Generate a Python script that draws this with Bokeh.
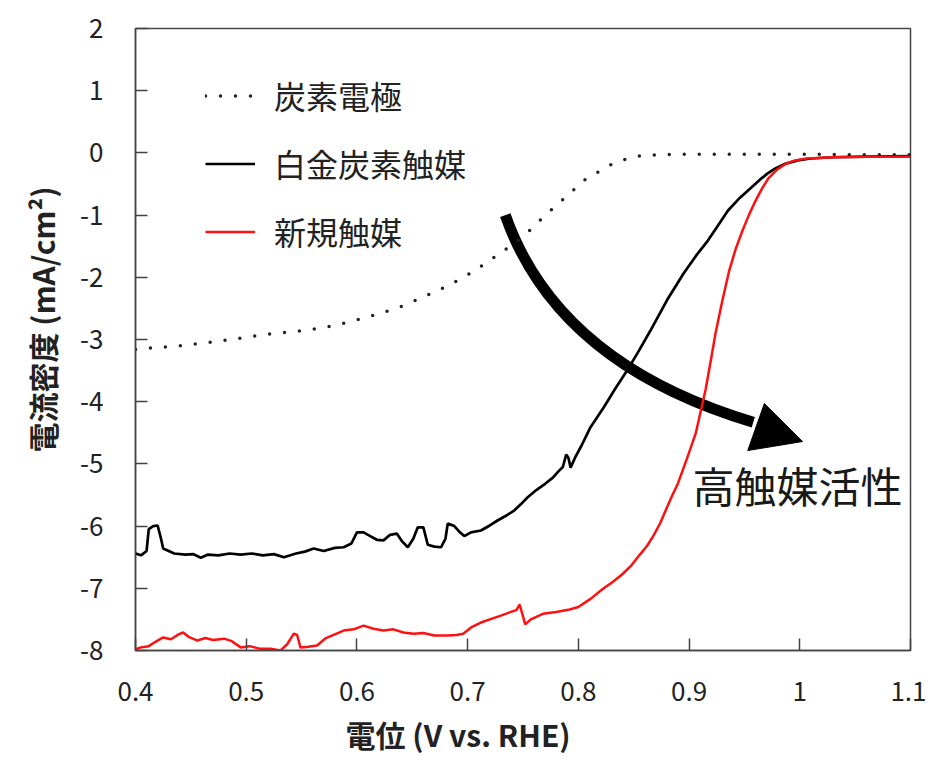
import math
from bokeh.plotting import figure
from bokeh.models import Range1d, FixedTicker, Legend, LegendItem, Label, Title
from bokeh.embed import file_html
from bokeh.resources import INLINE

# ---------------- data ----------------
carbon_x = [0.400, 0.412, 0.440, 0.465, 0.490, 0.517, 0.545, 0.570, 0.595, 0.621,
            0.640, 0.657, 0.683, 0.705, 0.728, 0.750, 0.769, 0.788, 0.808, 0.822,
            0.832, 0.845, 0.858, 0.871, 0.900, 0.950, 1.000, 1.050, 1.100]
carbon_y = [-3.16, -3.14, -3.10, -3.05, -2.99, -2.92, -2.87, -2.81, -2.71, -2.58,
            -2.47, -2.34, -2.13, -1.91, -1.63, -1.35, -1.02, -0.72, -0.40, -0.27,
            -0.16, -0.09, -0.04, -0.03, -0.02, -0.02, -0.02, -0.03, -0.03]

ptc_x = [0.400, 0.405, 0.410, 0.412, 0.416, 0.420, 0.423, 0.425, 0.430, 0.435,
         0.445, 0.452, 0.459, 0.465, 0.475, 0.485, 0.495, 0.505, 0.515, 0.525,
         0.534, 0.545, 0.553, 0.561, 0.570, 0.580, 0.588, 0.595, 0.600, 0.606,
         0.612, 0.618, 0.624, 0.630, 0.636, 0.641, 0.646, 0.651, 0.655, 0.660,
         0.664, 0.670, 0.676, 0.680, 0.682, 0.688, 0.693, 0.697, 0.703, 0.712,
         0.720, 0.727, 0.735, 0.742, 0.748, 0.754, 0.762, 0.770, 0.777, 0.782,
         0.786, 0.789, 0.791, 0.793, 0.797, 0.803, 0.811, 0.823, 0.833, 0.844,
         0.855, 0.865, 0.880, 0.895, 0.906, 0.917, 0.926, 0.935, 0.946, 0.956,
         0.964, 0.971, 0.978, 0.986, 0.998, 1.010, 1.030, 1.060, 1.100]
ptc_y = [-6.44, -6.47, -6.40, -6.05, -6.00, -5.99, -6.20, -6.36, -6.40, -6.44,
         -6.46, -6.45, -6.51, -6.46, -6.47, -6.44, -6.46, -6.44, -6.47, -6.45,
         -6.50, -6.44, -6.41, -6.36, -6.40, -6.35, -6.34, -6.28, -6.10, -6.10,
         -6.16, -6.22, -6.23, -6.14, -6.12, -6.25, -6.34, -6.20, -6.02, -6.02,
         -6.30, -6.33, -6.34, -6.20, -5.96, -6.00, -6.10, -6.16, -6.10, -6.07,
         -5.99, -5.91, -5.83, -5.75, -5.65, -5.54, -5.42, -5.32, -5.22, -5.12,
         -5.05, -4.85, -4.90, -5.06, -4.90, -4.70, -4.41, -4.09, -3.80, -3.50,
         -3.17, -2.86, -2.37, -1.94, -1.66, -1.41, -1.17, -0.93, -0.72, -0.56,
         -0.43, -0.33, -0.25, -0.18, -0.12, -0.09, -0.07, -0.06, -0.05]

new_x = [0.400, 0.405, 0.412, 0.418, 0.425, 0.432, 0.438, 0.443, 0.448, 0.456,
         0.463, 0.470, 0.480, 0.487, 0.495, 0.503, 0.512, 0.522, 0.531, 0.537,
         0.543, 0.546, 0.549, 0.556, 0.564, 0.572, 0.580, 0.588, 0.597, 0.606,
         0.615, 0.624, 0.633, 0.642, 0.651, 0.660, 0.670, 0.682, 0.690, 0.696,
         0.704, 0.712, 0.720, 0.730, 0.739, 0.744, 0.747, 0.750, 0.752, 0.757,
         0.768, 0.780, 0.792, 0.800, 0.811, 0.822, 0.831, 0.840, 0.848, 0.855,
         0.862, 0.868, 0.874, 0.880, 0.885, 0.890, 0.898, 0.906, 0.915, 0.920,
         0.924, 0.930, 0.936, 0.942, 0.948, 0.954, 0.960, 0.966, 0.972, 0.980,
         0.988, 0.996, 1.006, 1.030, 1.060, 1.100]
new_y = [-7.98, -7.95, -7.93, -7.86, -7.79, -7.82, -7.75, -7.71, -7.78, -7.84,
         -7.80, -7.83, -7.81, -7.85, -7.95, -7.93, -7.97, -7.97, -8.00, -7.90,
         -7.73, -7.75, -7.95, -7.94, -7.92, -7.80, -7.74, -7.68, -7.66, -7.60,
         -7.65, -7.68, -7.66, -7.71, -7.73, -7.72, -7.76, -7.76, -7.75, -7.73,
         -7.62, -7.55, -7.50, -7.44, -7.38, -7.35, -7.26, -7.45, -7.58, -7.50,
         -7.41, -7.38, -7.34, -7.30, -7.17, -7.01, -6.90, -6.77, -6.63, -6.47,
         -6.32, -6.15, -5.95, -5.70, -5.50, -5.31, -4.92, -4.51, -3.80, -3.30,
         -2.89, -2.38, -1.91, -1.55, -1.26, -1.00, -0.77, -0.57, -0.40, -0.26,
         -0.17, -0.12, -0.09, -0.07, -0.06, -0.06]

series_names = ["炭素電極", "白金炭素触媒", "新規触媒"]

x_ticks = [0.4, 0.5, 0.6, 0.7, 0.8, 0.9, 1.0, 1.1]
x_tick_labels = ["0.4", "0.5", "0.6", "0.7", "0.8", "0.9", "1", "1.1"]
y_ticks = [2, 1, 0, -1, -2, -3, -4, -5, -6, -7, -8]
y_tick_labels = ["2", "1", "0", "-1", "-2", "-3", "-4", "-5", "-6", "-7", "-8"]

x_title = "電位 (V vs. RHE)"
y_title = "電流密度 (mA/cm²)"
note_text = "高触媒活性"

# annotation geometry (data coordinates)
arrow_start = (0.734, -1.00)
arrow_ctrl = (0.781, -3.39)
arrow_end = (0.958, -4.33)
head_x = [0.968, 0.953, 1.0025]
head_y = [-4.03, -4.785, -4.64]

FONT = "Noto Sans CJK JP"
TXT = "#222222"
AX = "#444444"

p = figure(width=926, height=762, output_backend="svg", toolbar_location=None,
           x_range=Range1d(0.4, 1.1), y_range=Range1d(-8, 2),
           min_border_left=135, min_border_right=16, min_border_top=28,
           min_border_bottom=112)
p.background_fill_color = "white"
p.border_fill_color = "white"
p.outline_line_color = AX
p.outline_line_width = 1.5
p.grid.visible = False

for ax in (p.xaxis[0], p.yaxis[0]):
    ax.axis_line_color = AX
    ax.axis_line_width = 1.5
    ax.major_tick_line_color = AX
    ax.major_tick_line_width = 1.5
    ax.major_tick_in = 12
    ax.major_tick_out = 0
    ax.minor_tick_line_color = None
    ax.major_label_text_font = FONT
    ax.major_label_text_font_size = "26px"
    ax.major_label_text_color = TXT

p.xaxis.ticker = FixedTicker(ticks=x_ticks)
p.xaxis.major_label_overrides = dict(zip(x_ticks, x_tick_labels))
p.xaxis.major_label_standoff = 31
p.yaxis.ticker = FixedTicker(ticks=y_ticks)
p.yaxis.major_label_standoff = 32
p.yaxis.major_label_overrides = dict(zip(y_ticks, y_tick_labels))

# axis titles as side titles (positioned like the reference)
p.add_layout(Title(text=x_title, align="left", offset=210, text_font=FONT,
                   text_font_size="30px", text_font_style="bold",
                   text_color=TXT, standoff=13), "below")
p.add_layout(Title(text=y_title, align="left", offset=198, text_font=FONT,
                   text_font_size="30px", text_font_style="bold",
                   text_color=TXT, standoff=28), "left")

# arrow (drawn under the curves)
p.quadratic(x0=[arrow_start[0]], y0=[arrow_start[1]], x1=[arrow_end[0]], y1=[arrow_end[1]],
            cx=[arrow_ctrl[0]], cy=[arrow_ctrl[1]], line_color="black", line_width=11)
p.patch(head_x, head_y, fill_color="black", line_color="black", line_width=1)

r_c = p.line(carbon_x, carbon_y, line_color="#222222", line_width=3.5,
             line_dash="0 15", line_cap="round")
r_p = p.line(ptc_x, ptc_y, line_color="black", line_width=2.7)
r_n = p.line(new_x, new_y, line_color="#ff1010", line_width=2.5)

legend = Legend(items=[LegendItem(label=series_names[0], renderers=[r_c]),
                       LegendItem(label=series_names[1], renderers=[r_p]),
                       LegendItem(label=series_names[2], renderers=[r_n])],
                location=(70, 396), orientation="vertical",
                glyph_width=50, glyph_height=45, label_height=45, spacing=22,
                label_standoff=19, padding=0, margin=0,
                border_line_color=None, background_fill_alpha=0,
                label_text_font=FONT, label_text_font_size="32px",
                label_text_color=TXT)
p.add_layout(legend)

p.add_layout(Label(x=0.903, y=-5.33, text=note_text, text_font=FONT,
                   text_font_size="42px", text_color="#1a1a1a",
                   text_align="left", text_baseline="middle"))

open("out.html", "w").write(file_html(p, INLINE))
